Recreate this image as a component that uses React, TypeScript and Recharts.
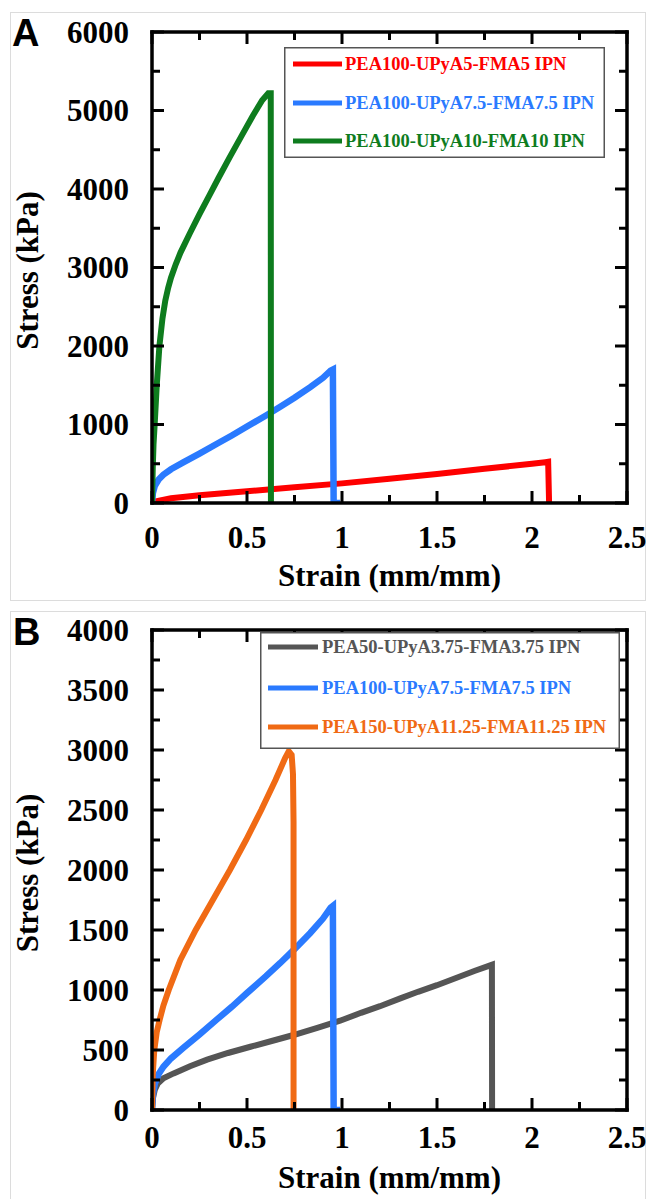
import React from "react";
import { Legend, Line, LineChart, XAxis, YAxis } from "recharts";

// axis ticks (minor + labelled majors)
const STRAIN_TICKS = [0, 0.25, 0.5, 0.75, 1, 1.25, 1.5, 1.75, 2, 2.25, 2.5];
const STRAIN_LABELS = [0, 0.5, 1, 1.5, 2, 2.5];
const STRESS_A_TICKS = [0, 500, 1000, 1500, 2000, 2500, 3000, 3500, 4000, 4500, 5000, 5500, 6000];
const STRESS_A_LABELS = [0, 1000, 2000, 3000, 4000, 5000, 6000];
const STRESS_B_TICKS = [0, 250, 500, 750, 1000, 1250, 1500, 1750, 2000, 2250, 2500, 2750, 3000, 3250, 3500, 3750, 4000];
const STRESS_B_LABELS = [0, 500, 1000, 1500, 2000, 2500, 3000, 3500, 4000];

// panel A
const PEA100_5_STRAIN = [0, 0.02, 0.05, 0.1, 0.25, 0.5, 0.75, 1.0, 1.25, 1.5, 1.75, 2.0, 2.07, 2.085, 2.09];
const PEA100_5_STRESS = [0, 20, 35, 60, 100, 150, 200, 250, 310, 370, 435, 500, 520, 525, 0];

const PEA100_75_STRAIN = [0, 0.005, 0.015, 0.035, 0.06, 0.1, 0.167, 0.25, 0.342, 0.42, 0.5, 0.6, 0.675, 0.75, 0.833, 0.9, 0.94, 0.952, 0.956, 0.99];
const PEA100_75_STRESS = [0, 130, 220, 300, 360, 430, 520, 630, 755, 860, 975, 1115, 1225, 1340, 1475, 1595, 1685, 1700, 0, 0];

const PEA100_10_STRAIN = [0, 0.004, 0.008, 0.014, 0.025, 0.039, 0.055, 0.07, 0.085, 0.1, 0.125, 0.15, 0.2, 0.25, 0.3, 0.35, 0.41, 0.47, 0.53, 0.58, 0.612, 0.625, 0.626];
const PEA100_10_STRESS = [0, 450, 750, 1000, 1500, 2000, 2350, 2580, 2740, 2870, 3040, 3190, 3440, 3680, 3910, 4140, 4410, 4670, 4930, 5130, 5220, 5220, 0];

// panel B
const PEA50_STRAIN = [0, 0.005, 0.015, 0.03, 0.06, 0.114, 0.2, 0.29, 0.4, 0.518, 0.63, 0.745, 0.87, 0.99, 1.1, 1.2, 1.307, 1.4, 1.5, 1.6, 1.7, 1.78, 1.789, 1.79];
const PEA50_STRESS = [0, 100, 170, 220, 265, 305, 365, 420, 475, 527, 575, 625, 685, 744, 810, 865, 930, 985, 1040, 1100, 1160, 1205, 1210, 0];

const PEA150_STRAIN = [0, 0.004, 0.012, 0.025, 0.04, 0.06, 0.088, 0.149, 0.23, 0.32, 0.41, 0.495, 0.575, 0.65, 0.7, 0.72, 0.735, 0.742, 0.745, 0.745];
const PEA150_STRESS = [0, 300, 500, 650, 750, 870, 1000, 1250, 1500, 1750, 2000, 2250, 2500, 2750, 2930, 2990, 2960, 2800, 2400, 0];

const SERIF = '"Liberation Serif", "Times New Roman", Times, serif';
const TICK_FONT = { fontFamily: SERIF, fontWeight: 700, fontSize: 31 };
const LEGEND_FONT = { fontFamily: SERIF, fontWeight: 700, fontSize: 18.5 };

const RED = "#fe0000";
const BLUE = "#2a7aff";
const GREEN = "#0e7c1e";
const GRAY = "#555555";
const ORANGE = "#f06a14";

const PLOT_LEFT = 152;
const PLOT_RIGHT = 627;

const zip = (xs: number[], ys: number[]) => xs.map((s, i) => ({ strain: s, stress: ys[i] }));

type Side = "bottom" | "top" | "left" | "right";

// ticks point inward from the frame edge, majors longer; only bottom/left carry numbers
function makeTick(side: Side, labels: number[], edge: number, gap = 0) {
  return function Tick(props: any) {
    const { x, y, payload } = props;
    const v = payload.value as number;
    const major = labels.includes(v);
    const len = major ? 12 : 8;
    let d = "";
    if (side === "bottom") d = `M${x},${edge}V${edge - len}`;
    if (side === "top") d = `M${x},${edge}V${edge + len}`;
    if (side === "left") d = `M${edge},${y}H${edge + len}`;
    if (side === "right") d = `M${edge},${y}H${edge - len}`;
    return (
      <g>
        <path d={d} fill="none" style={{ stroke: "#000", strokeWidth: 3 }} />
        {major && side === "bottom" && (
          <text x={x} y={edge + gap} textAnchor="middle" fill="#000" style={TICK_FONT}>{v}</text>
        )}
        {major && side === "left" && (
          <text x={edge - gap} y={y + 10.5} textAnchor="end" fill="#000" style={TICK_FONT}>{v}</text>
        )}
      </g>
    );
  };
}

function LegendBox(props: any) {
  const { payload = [], order, width, height, rows, lineX, textX } = props;
  const items = [...payload].sort((a: any, b: any) => order.indexOf(a.value) - order.indexOf(b.value));
  return (
    <svg width={width} height={height} style={{ display: "block" }}>
      <rect x={0.75} y={0.75} width={width - 1.5} height={height - 1.5} fill="#fff" stroke="#555" strokeWidth={1.5} />
      {items.map((entry: any, i: number) => (
        <g key={entry.value}>
          <line x1={lineX[0]} x2={lineX[1]} y1={rows[i]} y2={rows[i]} stroke={entry.color} strokeWidth={5} />
          <text x={textX} y={rows[i] + 6.3} fill={entry.color} style={LEGEND_FONT}>{entry.value}</text>
        </g>
      ))}
    </svg>
  );
}

const axisLine = { stroke: "#000", strokeWidth: 3.5, strokeLinecap: "square" as const };

function Panel(props: {
  top: number;
  height: number;
  plotTop: number;
  plotBottom: number;
  yMax: number;
  yTicks: number[];
  yLabels: number[];
  tickGap: number;
  titleGap: number;
  legend: { left: number; top: number; width: number; height: number; rows: number[]; lineX: number[]; textX: number };
  series: { name: string; color: string; width: number; data: { strain: number; stress: number }[] }[];
}) {
  const { top, height, plotTop, plotBottom, yMax, yTicks, yLabels, tickGap, titleGap, legend, series } = props;
  const order = series.map((s) => s.name);
  return (
    <div style={{ position: "absolute", left: 0, top, width: 654, height }}>
      <LineChart width={654} height={height} margin={{ top: plotTop - 2, right: 654 - PLOT_RIGHT - 2, bottom: 0, left: 0 }}>
        {series.map((s) => (
          <Line
            key={s.name}
            xAxisId="b"
            yAxisId="l"
            type="linear"
            data={s.data}
            dataKey="stress"
            name={s.name}
            stroke={s.color}
            strokeWidth={s.width}
            dot={false}
            activeDot={false}
            isAnimationActive={false}
          />
        ))}
        <XAxis
          xAxisId="b"
          dataKey="strain"
          type="number"
          domain={[0, 2.5]}
          allowDataOverflow
          ticks={STRAIN_TICKS}
          interval={0}
          tickSize={0}
          tickMargin={0}
          tickLine={false}
          axisLine={axisLine}
          height={height - plotBottom}
          tick={makeTick("bottom", STRAIN_LABELS, plotBottom, tickGap)}
          label={{
            content: (p: any) => {
              const vb = p.viewBox;
              return (
                <text x={vb.x + vb.width / 2} y={plotBottom + titleGap} textAnchor="middle" fill="#000" style={TICK_FONT}>
                  Strain (mm/mm)
                </text>
              );
            },
          }}
        />
        <XAxis
          xAxisId="t"
          orientation="top"
          dataKey="strain"
          type="number"
          domain={[0, 2.5]}
          allowDataOverflow
          ticks={STRAIN_TICKS}
          interval={0}
          tickSize={0}
          tickMargin={0}
          tickLine={false}
          axisLine={axisLine}
          height={2}
          tick={makeTick("top", STRAIN_LABELS, plotTop)}
        />
        <YAxis
          yAxisId="l"
          type="number"
          domain={[0, yMax]}
          allowDataOverflow
          ticks={yTicks}
          interval={0}
          tickSize={0}
          tickMargin={0}
          tickLine={false}
          axisLine={axisLine}
          width={PLOT_LEFT}
          tick={makeTick("left", yLabels, PLOT_LEFT, 23)}
          label={{
            content: () => {
              const cx = 38;
              const cy = (plotTop + plotBottom) / 2 + 3;
              return (
                <text x={cx} y={cy} transform={`rotate(-90 ${cx} ${cy})`} textAnchor="middle" fill="#000" style={TICK_FONT}>
                  Stress (kPa)
                </text>
              );
            },
          }}
        />
        <YAxis
          yAxisId="r"
          orientation="right"
          type="number"
          domain={[0, yMax]}
          allowDataOverflow
          ticks={yTicks}
          interval={0}
          tickSize={0}
          tickMargin={0}
          tickLine={false}
          axisLine={axisLine}
          width={2}
          tick={makeTick("right", yLabels, PLOT_RIGHT)}
        />
        <Legend
          layout="vertical"
          align="center"
          verticalAlign="middle"
          wrapperStyle={{ left: legend.left, top: legend.top, width: legend.width, height: legend.height }}
          content={(p: any) => (
            <LegendBox
              payload={p.payload}
              order={order}
              width={legend.width}
              height={legend.height}
              rows={legend.rows}
              lineX={legend.lineX}
              textX={legend.textX}
            />
          )}
        />
      </LineChart>
    </div>
  );
}

export default function App() {
  return (
    <div style={{ position: "absolute", left: 0, top: 0, width: 654, height: 1199, background: "#fff", overflow: "hidden" }}>
      <svg width={654} height={1199} style={{ position: "absolute", left: 0, top: 0 }}>
        <rect x={10.5} y={12.5} width={635} height={588} fill="none" stroke="#dcdcdc" strokeWidth={1} />
        <rect x={10.5} y={611.5} width={635} height={600} fill="none" stroke="#dcdcdc" strokeWidth={1} />
        <text x={12} y={46} fill="#000" style={{ fontFamily: '"Liberation Sans", Arial, sans-serif', fontWeight: 700, fontSize: 38 }}>A</text>
        <text x={13} y={645} fill="#000" style={{ fontFamily: '"Liberation Sans", Arial, sans-serif', fontWeight: 700, fontSize: 38 }}>B</text>
      </svg>
      <Panel
        top={0}
        height={600}
        plotTop={32}
        plotBottom={503}
        yMax={6000}
        yTicks={STRESS_A_TICKS}
        yLabels={STRESS_A_LABELS}
        tickGap={45}
        titleGap={83}
        legend={{ left: 284, top: 47, width: 321, height: 111, rows: [17, 56, 94], lineX: [9, 58], textX: 61 }}
        series={[
          { name: "PEA100-UPyA5-FMA5 IPN", color: RED, width: 6, data: zip(PEA100_5_STRAIN, PEA100_5_STRESS) },
          { name: "PEA100-UPyA7.5-FMA7.5 IPN", color: BLUE, width: 6.5, data: zip(PEA100_75_STRAIN, PEA100_75_STRESS) },
          { name: "PEA100-UPyA10-FMA10 IPN", color: GREEN, width: 6, data: zip(PEA100_10_STRAIN, PEA100_10_STRESS) },
        ]}
      />
      <Panel
        top={600}
        height={599}
        plotTop={30}
        plotBottom={510}
        yMax={4000}
        yTicks={STRESS_B_TICKS}
        yLabels={STRESS_B_LABELS}
        tickGap={38}
        titleGap={78}
        legend={{ left: 260, top: 32, width: 360, height: 117, rows: [15, 56, 95], lineX: [8, 58], textX: 62 }}
        series={[
          { name: "PEA50-UPyA3.75-FMA3.75 IPN", color: GRAY, width: 6, data: zip(PEA50_STRAIN, PEA50_STRESS) },
          { name: "PEA100-UPyA7.5-FMA7.5 IPN", color: BLUE, width: 6.5, data: zip(PEA100_75_STRAIN, PEA100_75_STRESS) },
          { name: "PEA150-UPyA11.25-FMA11.25 IPN", color: ORANGE, width: 6, data: zip(PEA150_STRAIN, PEA150_STRESS) },
        ]}
      />
    </div>
  );
}
